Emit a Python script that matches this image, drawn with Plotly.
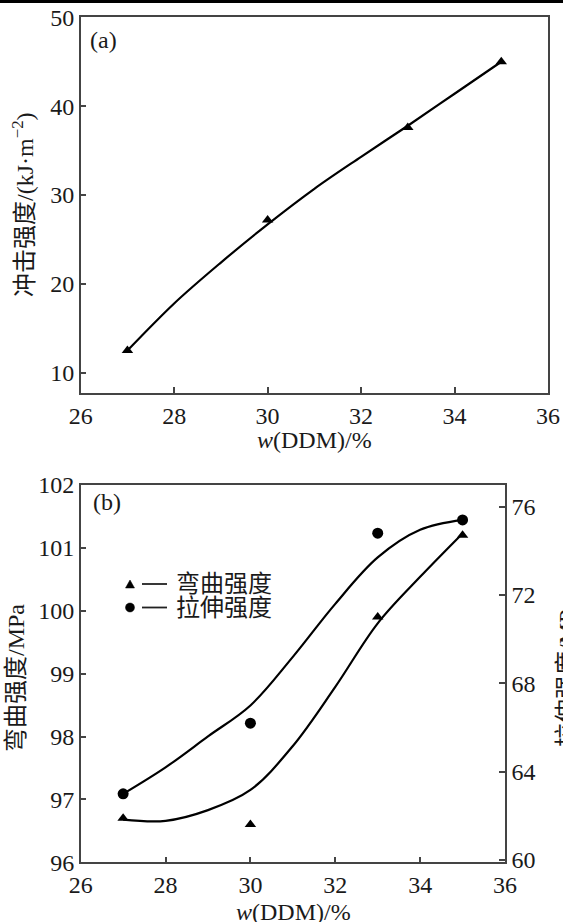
import plotly.graph_objects as go

# ---------------- data ----------------
# Panel (a): impact strength
a_x = [27, 30, 33, 35]
a_impact = [12.5, 27.2, 37.6, 45.0]
# fitted curve
a_fit_x = [27, 28, 29, 30, 31, 32, 33, 34, 35]
a_fit_y = [12.5, 17.8, 22.4, 26.7, 30.7, 34.3, 37.8, 41.4, 45.0]

# Panel (b): flexural (left axis) and tensile (right axis) strength
b_x = [27, 30, 33, 35]
b_flex = [96.7, 96.6, 99.9, 101.2]
b_tensile = [63.0, 66.2, 74.8, 75.4]
b_fit_x = [27, 28, 29, 30, 31, 32, 33, 34, 35]
b_flex_fit = [96.68, 96.66, 96.83, 97.15, 97.85, 98.79, 99.80, 100.54, 101.23]
b_tensile_fit = [63.0, 64.2, 65.6, 67.0, 69.2, 71.6, 73.7, 74.95, 75.4]

x_ticks = [26, 28, 30, 32, 34, 36]
a_y_ticks = [10, 20, 30, 40, 50]
b_left_ticks = [96, 97, 98, 99, 100, 101, 102]
b_right_ticks = [60, 64, 68, 72, 76]

legend_names = ["弯曲强度", "拉伸强度"]

# ---------------- layout helpers ----------------
W, H = 563, 922
def px(x):
    return x / W
def py(y):
    return 1 - y / H

FONT = "'Liberation Serif', 'Noto Sans CJK SC', serif"
AX = "#444444"
TICKFONT = dict(family=FONT, size=24, color="#1a1a1a")

fig = go.Figure()

# Panel (a)
fig.add_trace(go.Scatter(x=a_fit_x, y=a_fit_y, mode="lines",
                         line=dict(color="black", width=2.2, shape="spline", smoothing=1),
                         xaxis="x", yaxis="y", showlegend=False, hoverinfo="skip"))
fig.add_trace(go.Scatter(x=a_x, y=a_impact, mode="markers",
                         marker=dict(symbol="triangle-up", size=10, color="black"),
                         xaxis="x", yaxis="y", showlegend=False))

# Panel (b)
fig.add_trace(go.Scatter(x=b_fit_x, y=b_flex_fit, mode="lines",
                         line=dict(color="black", width=2.2, shape="spline", smoothing=1),
                         xaxis="x2", yaxis="y2", showlegend=False, hoverinfo="skip"))
fig.add_trace(go.Scatter(x=b_x, y=b_flex, mode="markers", name=legend_names[0],
                         marker=dict(symbol="triangle-up", size=10, color="black"),
                         xaxis="x2", yaxis="y2", showlegend=False))
fig.add_trace(go.Scatter(x=b_fit_x, y=b_tensile_fit, mode="lines",
                         line=dict(color="black", width=2.2, shape="spline", smoothing=1),
                         xaxis="x2", yaxis="y3", showlegend=False, hoverinfo="skip"))
fig.add_trace(go.Scatter(x=b_x, y=b_tensile, mode="markers", name=legend_names[1],
                         marker=dict(symbol="circle", size=11, color="black"),
                         xaxis="x2", yaxis="y3", showlegend=False))

common = dict(showline=True, linecolor=AX, linewidth=1.5, ticks="inside", ticklen=6,
              tickcolor=AX, tickwidth=1.5, showgrid=False, zeroline=False,
              tickfont=TICKFONT, automargin=False)

fig.update_layout(
    width=W, height=H,
    margin=dict(l=0, r=0, t=0, b=0),
    paper_bgcolor="white", plot_bgcolor="white",
    showlegend=False,
    xaxis=dict(domain=[px(80.7), px(548)], anchor="y", range=[26, 36],
               tickvals=x_ticks, mirror=True, **common),
    yaxis=dict(domain=[py(393), py(17.3)], anchor="x", range=[7.72, 50],
               tickvals=a_y_ticks, mirror=True, **common),
    xaxis2=dict(domain=[px(80.7), px(505)], anchor="y2", range=[26, 36],
                tickvals=x_ticks, mirror=True, **common),
    yaxis2=dict(domain=[py(862.3), py(485)], anchor="x2", range=[96, 102],
                tickvals=b_left_ticks, mirror=False, **common),
    yaxis3=dict(overlaying="y2", side="right", anchor="x2", range=[59.9, 76.98],
                tickvals=b_right_ticks, **common),
)

ann_font = dict(family=FONT, size=24, color="#1a1a1a")
annotations = [
    # panel labels
    dict(x=px(103), y=py(40), text="(a)"),
    dict(x=px(107), y=py(502), text="(b)"),
    # axis titles
    dict(x=px(314), y=py(440), text="<i>w</i>(DDM)/%"),
    dict(x=px(293), y=py(912), text="<i>w</i>(DDM)/%"),
    dict(x=px(23), y=py(205), text="冲击强度/(kJ·m<sup>−2</sup>)", textangle=-90),
    dict(x=px(16), y=py(678), text="弯曲强度/MPa", textangle=-90),
    dict(x=px(567), y=py(673), text="拉伸强度/MPa", textangle=-90),
    # legend texts
    dict(x=px(174), y=py(584), text=legend_names[0], xanchor="left"),
    dict(x=px(174), y=py(607.5), text=legend_names[1], xanchor="left"),
]
for a in annotations:
    base = dict(xref="paper", yref="paper", showarrow=False, font=ann_font,
                xanchor="center", yanchor="middle")
    base.update(a)
    fig.add_annotation(**base)

tri_path = "M {},{} L {},{} L {},{} Z".format(px(125.5), py(588), px(134.5), py(588),
                                              px(130), py(580))
shapes = [
    dict(type="rect", xref="paper", yref="paper", x0=0, x1=1, y0=py(3), y1=1,
         fillcolor="black", line=dict(width=0)),
    # legend lines
    dict(type="line", xref="paper", yref="paper", x0=px(142), x1=px(167),
         y0=py(584), y1=py(584), line=dict(color="#222", width=1.8)),
    dict(type="line", xref="paper", yref="paper", x0=px(142), x1=px(167),
         y0=py(607.5), y1=py(607.5), line=dict(color="#222", width=1.8)),
    # legend symbols
    dict(type="path", xref="paper", yref="paper", path=tri_path,
         fillcolor="black", line=dict(color="black", width=0.5)),
    dict(type="circle", xref="paper", yref="paper", x0=px(125.5), x1=px(134.5),
         y0=py(612), y1=py(603), fillcolor="black", line=dict(color="black", width=0.5)),
]
for s in shapes:
    fig.add_shape(**s)

fig.write_html("out.html", config={"displayModeBar": False},
               post_script="document.body.style.margin='0';document.body.style.overflow='hidden';")
